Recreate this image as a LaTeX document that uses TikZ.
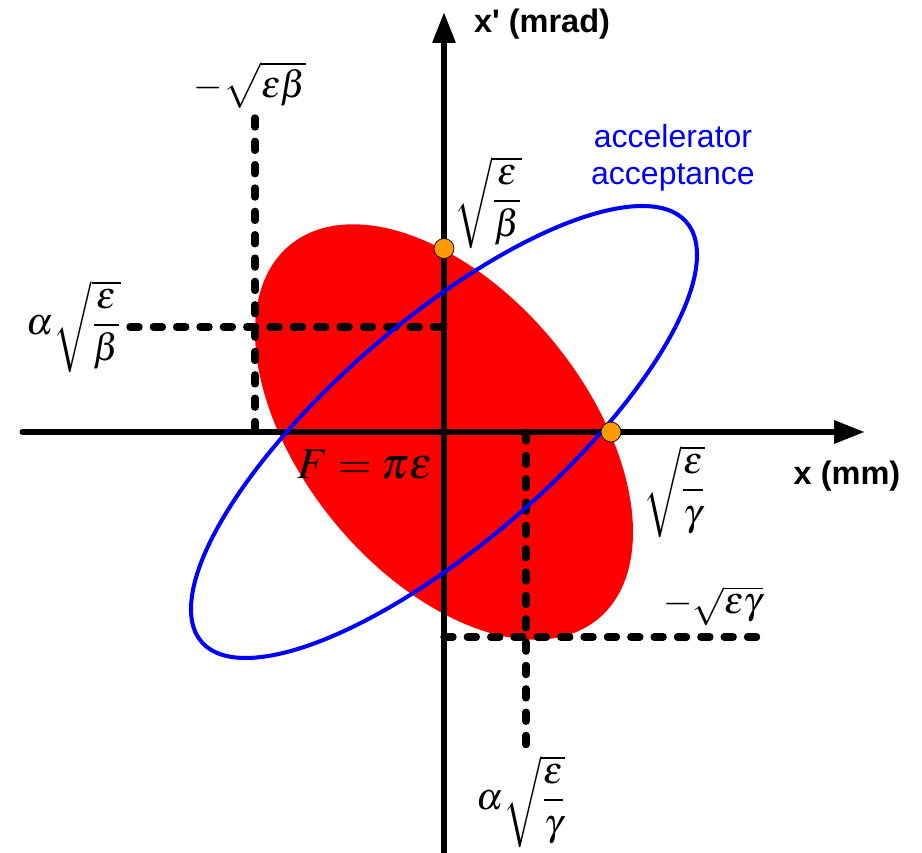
\documentclass[tikz,border=0pt]{standalone}
\usepackage{amsmath}
\usepackage{mathptmx}
\usepackage{fontspec}
\newfontfamily\labelfont{Liberation Sans}[Ligatures=TeXOff]
\usetikzlibrary{arrows.meta}
\definecolor{dotorange}{RGB}{255,153,0}
\tikzset{
  axis/.style={line width=3.4pt,line cap=round,-{Triangle[length=6.2mm,width=4.4mm]}},
  constr/.style={line width=4.2pt,line cap=round,dash pattern=on 1.8mm off 2.87mm},
  beam/.style={fill=red},
  accept/.style={draw=blue,line width=2.3pt},
  marker/.style={circle,draw,thin,fill=dotorange,inner sep=0pt,minimum size=4mm},
  mathlbl/.style={font=\fontsize{21.5}{26}\selectfont},
  arealbl/.style={font=\fontsize{25}{30}\selectfont},
  axlabel/.style={font=\labelfont\bfseries\fontsize{18.5}{22}\selectfont},
  acclabel/.style={font=\labelfont\fontsize{18.2}{21}\selectfont,text=blue,align=center}
}

\begin{document}
\begin{tikzpicture}[x=1cm,y=1cm]
  \useasboundingbox (-8.88,-8.42) rectangle (9.56,8.64);

  % --- Ellipse du faisceau ---
  \fill[beam,cm={3.78,-2.0,0,3.64,(0,0)}] (0,0) circle (1);

  % --- Axes ---
  \coordinate (xl) at (-8.43,0);
  \coordinate (xr) at (8.42,0);
  \coordinate (yb) at (0,-8.7);
  \coordinate (yt) at (0,8.4);
  \draw[axis] (xl)--(xr);
  \draw[axis] (yb)--(yt);

  % --- Lignes de construction ---
  \coordinate (xmin) at (-3.78,0);
  \coordinate (xminT) at (-3.78,6.28);
  \coordinate (xpA) at (0,2.10);
  \coordinate (xpAL) at (-6.28,2.10);
  \coordinate (xmaxA) at (1.64,0);
  \coordinate (xmaxAB) at (1.64,-6.26);
  \coordinate (xpmin) at (0,-4.10);
  \coordinate (xpminR) at (6.36,-4.10);
  \draw[constr] (xminT)--(xmin);
  \draw[constr] (xpAL)--(xpA);
  \draw[constr] (xmaxA)--(xmaxAB);
  \draw[constr] (xpmin)--(xpminR);

  % --- Acceptance ---
  \draw[accept,cm={5.06,3.54,0,2.81,(0,0)}] (0,0) circle (1);

  % --- Intersections avec les axes ---
  \node[marker] (xp0) at (0,3.67) {};
  \node[marker] (x0) at (3.34,0) {};

  % --- Textes ---
  \node[mathlbl] (epsbeta) at (-3.88,6.94) {$-\sqrt{\varepsilon\beta}$};
  \node[mathlbl] (sqrtbeta) at (0.88,4.58) {$\sqrt{\dfrac{\varepsilon}{\beta}}$};
  \node[mathlbl] (alphabeta) at (-7.4,2.1) {$\alpha\sqrt{\dfrac{\varepsilon}{\beta}}$};
  \node[mathlbl] (sqrtgamma) at (4.6,-1.2) {$\sqrt{\dfrac{\varepsilon}{\gamma}}$};
  \node[mathlbl] (epsgamma) at (5.38,-3.48) {$-\sqrt{\varepsilon\gamma}$};
  \node[mathlbl] (alphagamma) at (1.54,-7.4) {$\alpha\sqrt{\dfrac{\varepsilon}{\gamma}}$};
  \node[arealbl] (area) at (-1.58,-0.66) {$F=\pi\varepsilon$};
  \node[axlabel] (xlab) at (8.06,-0.88) {x (mm)};
  \node[axlabel] (xplab) at (1.96,8.16) {x' (mrad)};
  \node[acclabel] (acc) at (4.58,5.48) {accelerator\\acceptance};

\end{tikzpicture}
\end{document}
